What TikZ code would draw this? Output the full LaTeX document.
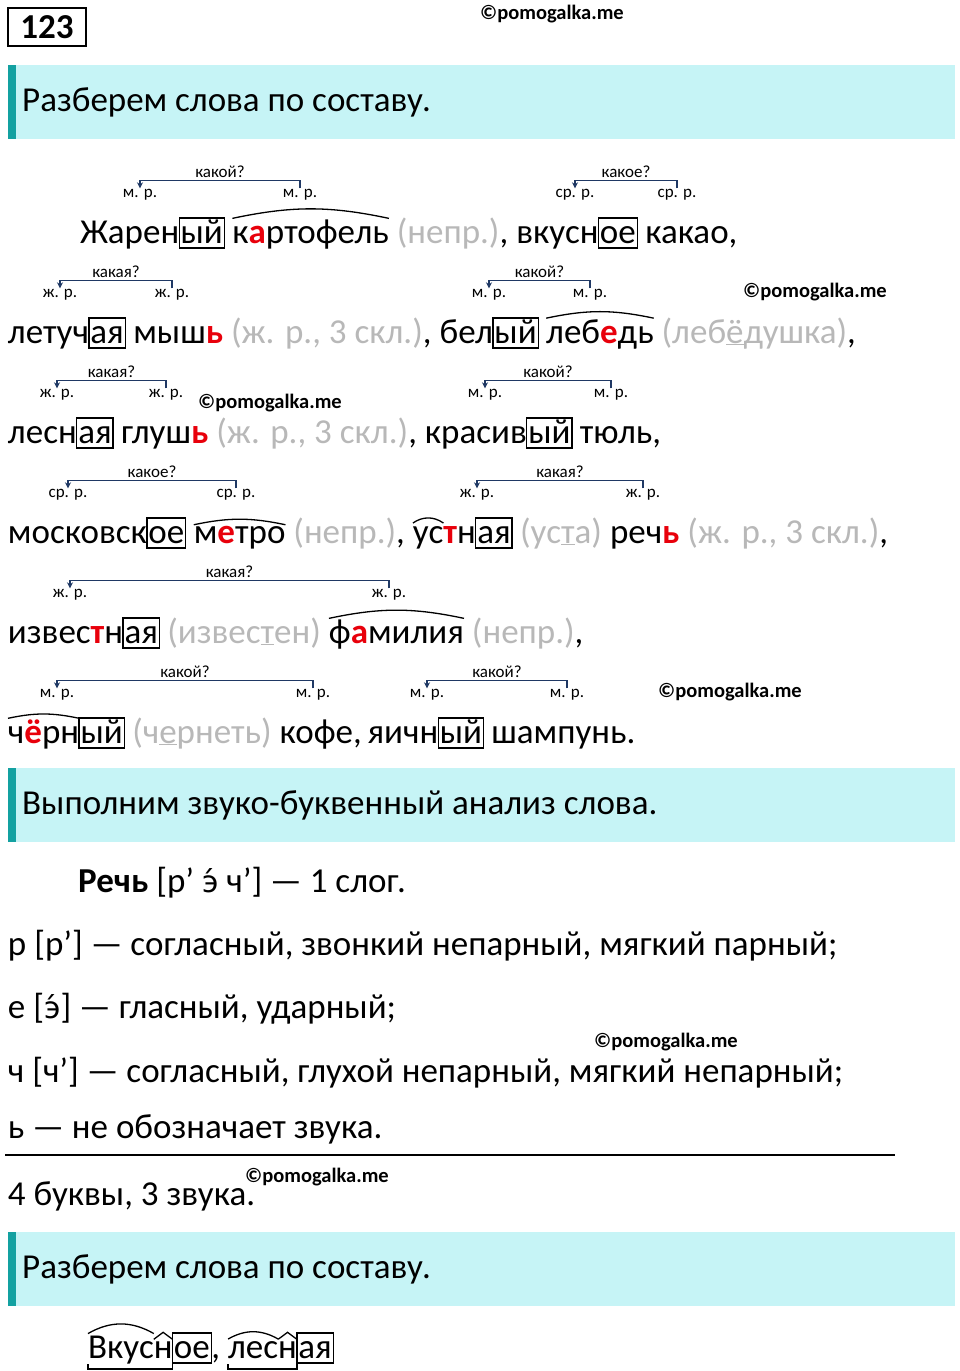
\documentclass[tikz,border=0pt]{standalone}
\usepackage{fontspec}
\setmainfont{Carlito}
\newfontfamily\dvfont{DejaVu Sans}
\usetikzlibrary{positioning,arrows.meta}
\definecolor{band}{HTML}{C6F4F6}
\definecolor{bar}{HTML}{13A1A1}
\definecolor{gy}{HTML}{B8B8B8}
\definecolor{rd}{HTML}{E8000B}
\definecolor{nv}{HTML}{1F3864}
\newcommand{\rd}[1]{\textcolor{rd}{\textbf{#1}}}
\newcommand{\gy}[1]{\textcolor{gy}{#1}}
\newcommand{\wf}{\fontsize{35}{42}\selectfont}
\newcommand{\wsp}{8}
\newcommand{\eacc}{{\dvfont\fontsize{30}{36}\selectfont э́}}
\tikzset{
  w/.style={inner sep=0pt, outer sep=0pt, anchor=base west, font=\wf},
  bx/.style={w, draw, line width=1.3pt, inner xsep=1.5pt, text height=25pt, text depth=5pt},
  lb/.style={font=\fontsize{17}{20}\selectfont, inner sep=1pt},
  qs/.style={font=\fontsize{17}{20}\selectfont, inner sep=2pt, black},
  agr/.style={nv, line width=1.3pt, -{Stealth[length=6pt,width=6pt]}},
  arcw/.style={line width=1.3pt},
  wm/.style={font=\fontsize{20.5}{24}\selectfont\bfseries, inner sep=0pt},
  hd/.style={anchor=west, font=\fontsize{35}{42}\selectfont, inner sep=0pt},
}
\begin{document}
\begin{tikzpicture}[x=1pt,y=1pt]
\useasboundingbox (0,0) rectangle (960,-1371);
% title and watermarks
\node[draw, line width=1.5pt, font=\fontsize{35}{40}\selectfont\bfseries, inner sep=2pt, minimum width=78, minimum height=38] (num) at (47,-27) {123};
\node[wm] (wm1) at (552,-14) {©pomogalka.me};
\node[wm] (wm2) at (815,-292) {©pomogalka.me};
\node[wm] (wm3) at (270,-403) {©pomogalka.me};
\node[wm] (wm4) at (730,-692) {©pomogalka.me};
\node[wm] (wm5) at (666,-1042) {©pomogalka.me};
\node[wm] (wm6) at (317,-1177) {©pomogalka.me};
% bands
\foreach \t/\b in {65/139, 768/842, 1232/1306} {
  \fill[band] (8,-\t) rectangle (955,-\b);
  \fill[bar] (8,-\t) rectangle (16,-\b);
}
\node[hd] (h1) at (22,-102) {Разберем слова по составу.};
\node[hd] (h2) at (22,-805) {Выполним звуко-буквенный анализ слова.};
\node[hd] (h3) at (22,-1269) {Разберем слова по составу.};

% line 1
\node[w] (l1a) at (80,-243) {Жарен};
\node[bx] (l1b) at (l1a.base east) {ый};
\node[w] (l1c) at ([xshift=\wsp]l1b.base east) {к\rd{а}ртофель};
\node[w] (l1d) at (l1c.base east) {\ \gy{(непр.)}, вкусн};
\node[bx] (l1e) at (l1d.base east) {ое};
\node[w] (l1f) at (l1e.base east) {\ какао,};
\draw[arcw] ([yshift=1]l1c.north west) to[bend left=12] ([yshift=1]l1c.north east);
\node[lb] (g1a) at (140,-195) {м. р.};
\node[lb] (g1b) at (300,-195) {м. р.};
\draw[agr] (g1b.north) -- ++(0,8) -| node[pos=.25,above,qs]{какой?} (g1a.north);
\node[lb] (g1c) at (575,-195) {ср. р.};
\node[lb] (g1d) at (677,-195) {ср. р.};
\draw[agr] (g1d.north) -- ++(0,8) -| node[pos=.25,above,qs]{какое?} (g1c.north);

% line 2
\node[w] (l2a) at (8,-343) {летуч};
\node[bx] (l2b) at (l2a.base east) {ая};
\node[w] (l2c) at ([xshift=\wsp]l2b.base east) {мыш\rd{ь}\ \gy{(ж. р., 3 скл.)}, бел};
\node[bx] (l2d) at (l2c.base east) {ый};
\node[w] (l2e) at ([xshift=\wsp]l2d.base east) {леб\rd{е}дь};
\node[w] (l2f) at (l2e.base east) {\ \gy{(леб\underline{ё}душка)},};
\draw[arcw] ([yshift=1]l2e.north west) to[bend left=12] ([yshift=1]l2e.north east);
\node[lb] (g2a) at (60,-295) {ж. р.};
\node[lb] (g2b) at (172,-295) {ж. р.};
\draw[agr] (g2b.north) -- ++(0,8) -| node[pos=.25,above,qs]{какая?} (g2a.north);
\node[lb] (g2c) at (489,-295) {м. р.};
\node[lb] (g2d) at (590,-295) {м. р.};
\draw[agr] (g2d.north) -- ++(0,8) -| node[pos=.25,above,qs]{какой?} (g2c.north);

% line 3
\node[w] (l3a) at (8,-443) {лесн};
\node[bx] (l3b) at (l3a.base east) {ая};
\node[w] (l3c) at ([xshift=\wsp]l3b.base east) {глуш\rd{ь}\ \gy{(ж. р., 3 скл.)}, красив};
\node[bx] (l3d) at (l3c.base east) {ый};
\node[w] (l3e) at (l3d.base east) {\ тюль,};
\node[lb] (g3a) at (57,-395) {ж. р.};
\node[lb] (g3b) at (166,-395) {ж. р.};
\draw[agr] (g3b.north) -- ++(0,8) -| node[pos=.25,above,qs]{какая?} (g3a.north);
\node[lb] (g3c) at (485,-395) {м. р.};
\node[lb] (g3d) at (611,-395) {м. р.};
\draw[agr] (g3d.north) -- ++(0,8) -| node[pos=.25,above,qs]{какой?} (g3c.north);

% line 4
\node[w] (l4a) at (8,-543) {московск};
\node[bx] (l4b) at (l4a.base east) {ое};
\node[w] (l4c) at ([xshift=\wsp]l4b.base east) {м\rd{е}тро};
\node[w] (l4d) at (l4c.base east) {\ \gy{(непр.)},};
\node[w] (l4e) at ([xshift=\wsp]l4d.base east) {ус};
\node[w] (l4f) at (l4e.base east) {\rd{т}н};
\node[bx] (l4g) at (l4f.base east) {ая};
\node[w] (l4h) at (l4g.base east) {\ \gy{(ус\underline{т}а)} реч\rd{ь}\ \gy{(ж. р., 3 скл.)},};
\draw[arcw] ([yshift=1]l4c.north west) to[bend left=12] ([yshift=1]l4c.north east);
\draw[arcw] ([yshift=3]l4e.north west) to[bend left=35] ([yshift=3]l4e.north east);
\node[lb] (g4a) at (68,-495) {ср. р.};
\node[lb] (g4b) at (236,-495) {ср. р.};
\draw[agr] (g4b.north) -- ++(0,8) -| node[pos=.25,above,qs]{какое?} (g4a.north);
\node[lb] (g4c) at (477,-495) {ж. р.};
\node[lb] (g4d) at (643,-495) {ж. р.};
\draw[agr] (g4d.north) -- ++(0,8) -| node[pos=.25,above,qs]{какая?} (g4c.north);

% line 5
\node[w] (l5a) at (8,-643) {извес\rd{т}н};
\node[bx] (l5b) at (l5a.base east) {ая};
\node[w] (l5c) at (l5b.base east) {\ \gy{(извес\underline{т}ен)}};
\node[w] (l5d) at ([xshift=\wsp]l5c.base east) {ф\rd{а}милия};
\node[w] (l5e) at (l5d.base east) {\ \gy{(непр.)},};
\draw[arcw] ([yshift=1]l5d.north west) to[bend left=12] ([yshift=1]l5d.north east);
\node[lb] (g5a) at (70,-595) {ж. р.};
\node[lb] (g5b) at (389,-595) {ж. р.};
\draw[agr] (g5b.north) -- ++(0,8) -| node[pos=.25,above,qs]{какая?} (g5a.north);

% line 6
\node[w] (l6a) at (8,-743) {ч\rd{ё}рн};
\node[bx] (l6b) at (l6a.base east) {ый};
\node[w] (l6c) at (l6b.base east) {\ \gy{(ч\underline{е}рнеть)} кофе,\,яичн};
\node[bx] (l6d) at (l6c.base east) {ый};
\node[w] (l6e) at (l6d.base east) {\ шампунь.};
\draw[arcw] ([yshift=1]l6a.north west) to[bend left=12] ([yshift=1]l6a.north east);
\node[lb] (g6a) at (57,-695) {м. р.};
\node[lb] (g6b) at (313,-695) {м. р.};
\draw[agr] (g6b.north) -- ++(0,8) -| node[pos=.25,above,qs]{какой?} (g6a.north);
\node[lb] (g6c) at (427,-695) {м. р.};
\node[lb] (g6d) at (567,-695) {м. р.};
\draw[agr] (g6d.north) -- ++(0,8) -| node[pos=.25,above,qs]{какой?} (g6c.north);

% analysis
\node[w] (s0) at (78,-892) {\textbf{Речь} [р’ \eacc\ ч’] — 1 слог.};
\node[w] (s1) at (8,-955) {р [р’] — согласный, звонкий непарный, мягкий парный;};
\node[w] (s2) at (8,-1018) {е [\eacc] — гласный, ударный;};
\node[w] (s3) at (8,-1082) {ч [ч’] — согласный, глухой непарный, мягкий непарный;};
\node[w] (s4) at (8,-1138) {ь — не обозначает звука.};
\draw[line width=1.5pt] (5,-1155) -- (895,-1155);
\node[w] (s5) at (8,-1205) {4 буквы, 3 звука.};

% bottom words
\node[w] (b1) at (88,-1358) {Вкус};
\node[w] (b2) at (b1.base east) {н};
\node[bx] (b3) at (b2.base east) {ое};
\node[w] (b4) at (b3.base east) {,};
\node[w] (b5) at ([xshift=\wsp]b4.base east) {лес};
\node[w] (b6) at (b5.base east) {н};
\node[bx] (b7) at (b6.base east) {ая};
\foreach \r/\s in {b1/b2, b5/b6} {
  \draw[arcw] ([yshift=2]\r.north west) to[bend left=30] ([yshift=2]\r.north east);
  \draw[arcw] ([yshift=2]\s.north west) -- ([yshift=9]\s.north) -- ([yshift=2]\s.north east);
  \draw[arcw] ([yshift=-6]\r.base west) -- ++(0,-5) -| ([yshift=-6]\s.base east);
}
\end{tikzpicture}
\end{document}
